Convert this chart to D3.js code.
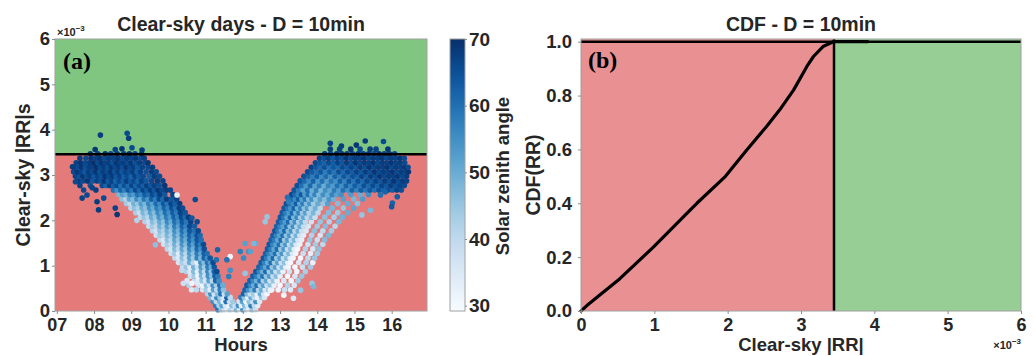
<!DOCTYPE html>
<html>
<head>
<meta charset="utf-8">
<script src="https://cdn.jsdelivr.net/npm/d3@7"></script>
<style>
  body { margin: 0; background: #fff; }
  text { font-family: "Liberation Sans", Arial, sans-serif; font-weight: bold; fill: #262626; }
</style>
</head>
<body>
<svg id="chart" width="1036" height="356"></svg>
<script>
// ---- data (RR values in units of 1e-3) ----
const hourTicks = [7, 8, 9, 10, 11, 12, 13, 14, 15, 16];
const hourLabels = ["07", "08", "09", "10", "11", "12", "13", "14", "15", "16"];
const rrTicks = [0, 1, 2, 3, 4, 5, 6];
const szaTicks = [30, 40, 50, 60, 70];
const cdfTicks = [0, 0.2, 0.4, 0.6, 0.8, 1.0];
const rrThreshold = 3.46;
const cdfThreshold = 3.45;

// scatter rows: [RR, [hour, zenith, hour, zenith, ...]]
const valleyRows = [
  [0.03, [11.33,60, 11.42,45, 11.5,38, 11.58,33, 11.66,42, 11.75,36, 11.83,48, 11.91,34, 12.0,55, 12.08,40, 12.16,32, 12.25,45, 12.34,38]],
  [0.12, [11.27,58, 11.36,42, 11.44,52, 11.53,36, 11.62,31, 11.7,46, 11.79,38, 11.88,55, 11.96,33, 12.05,47, 12.13,36, 12.22,58, 12.31,40, 12.4,34]],
  [0.21, [11.2,55, 11.29,40, 11.38,48, 11.47,33, 11.55,60, 11.64,38, 11.73,44, 11.9,36, 11.99,52, 12.08,31, 12.17,46, 12.26,38, 12.35,55, 12.45,35]],
  [0.3,  [11.12,48, 11.21,38, 11.3,56, 11.39,43, 11.48,35, 11.57,62, 11.66,40, 11.95,58, 12.04,45, 12.13,34, 12.22,50, 12.31,40, 12.4,32, 12.5,44, 12.58,36]],
  [0.38, [11.05,42, 11.14,55, 11.23,36, 11.32,47, 11.41,60, 11.5,38, 11.58,52, 12.02,62, 12.11,48, 12.2,38, 12.29,44, 12.38,33, 12.47,50, 12.56,36, 12.65,30]]
];

const fallRows = [
  [0.47, [10.62,35, 10.75,40, 10.92,36, 11.02,44, 11.12,33, 11.21,52, 11.3,40, 11.39,58, 11.48,46]],
  [0.57, [10.55,42, 10.82,38, 10.92,31, 11.02,46, 11.11,37, 11.2,55, 11.29,43, 11.38,60, 11.46,50]],
  [0.67, [10.5,36, 10.7,40, 10.8,33, 10.9,45, 11.0,36, 11.09,52, 11.18,41, 11.27,62, 11.36,55]],
  [0.77, [10.59,37, 10.69,44, 10.79,32, 10.89,48, 10.98,38, 11.07,55, 11.16,46, 11.25,63, 11.33,58]],
  [0.87, [10.48,42, 10.58,35, 10.68,47, 10.78,33, 10.88,50, 10.97,40, 11.06,56, 11.15,45, 11.23,62, 11.3,66]],
  [0.97, [10.38,39, 10.48,45, 10.58,34, 10.68,49, 10.78,38, 10.88,53, 10.97,44, 11.06,58, 11.15,50, 11.23,64]],
  [1.07, [10.27,36, 10.37,43, 10.47,38, 10.57,50, 10.67,41, 10.77,33, 10.87,55, 10.96,47, 11.05,60, 11.13,53, 11.2,66]],
  [1.17, [10.17,40, 10.27,35, 10.37,46, 10.47,39, 10.57,52, 10.67,44, 10.77,57, 10.87,48, 10.96,62, 11.05,55, 11.12,64]],
  [1.27, [10.07,38, 10.17,44, 10.27,34, 10.37,48, 10.47,41, 10.57,53, 10.67,46, 10.77,58, 10.87,51, 10.96,63, 11.04,60]],
  [1.37, [9.97,41, 10.07,36, 10.17,47, 10.27,40, 10.37,51, 10.47,44, 10.57,56, 10.67,49, 10.77,61, 10.87,55, 10.96,65]],
  [1.47, [9.87,37, 9.97,43, 10.07,39, 10.17,49, 10.27,42, 10.37,54, 10.47,47, 10.57,59, 10.67,52, 10.77,63, 10.86,58, 10.94,66]],
  [1.57, [9.77,40, 9.87,35, 9.97,46, 10.07,41, 10.17,51, 10.27,45, 10.37,56, 10.47,50, 10.57,61, 10.67,55, 10.77,64, 10.88,60]],
  [1.67, [9.67,38, 9.77,44, 9.87,40, 9.97,48, 10.07,43, 10.17,53, 10.27,47, 10.37,58, 10.47,52, 10.57,62, 10.67,57, 10.77,65, 10.85,61]],
  [1.77, [9.57,41, 9.67,37, 9.77,46, 9.87,42, 9.97,50, 10.07,45, 10.17,55, 10.27,49, 10.37,60, 10.47,54, 10.57,64, 10.7,60, 10.8,66]],
  [1.87, [9.47,39, 9.57,44, 9.67,40, 9.77,49, 9.87,44, 9.97,53, 10.07,47, 10.17,58, 10.27,52, 10.37,62, 10.47,57, 10.57,66, 10.7,63]],
  [1.97, [9.37,42, 9.47,38, 9.57,47, 9.67,43, 9.77,51, 9.87,46, 9.97,56, 10.07,50, 10.17,60, 10.27,55, 10.37,64, 10.48,59, 10.6,67]],
  [2.07, [9.25,40, 9.35,45, 9.45,41, 9.55,50, 9.65,45, 9.75,54, 9.85,49, 9.95,58, 10.05,53, 10.15,62, 10.25,57, 10.35,66, 10.45,61, 10.54,68]],
  [2.17, [9.12,43, 9.22,39, 9.32,48, 9.42,44, 9.52,52, 9.62,47, 9.72,56, 9.82,51, 9.92,60, 10.02,55, 10.12,63, 10.22,58, 10.32,67, 10.45,64]],
  [2.27, [8.99,41, 9.09,46, 9.19,42, 9.29,50, 9.39,46, 9.49,55, 9.59,50, 9.69,58, 9.79,54, 9.89,62, 9.99,57, 10.09,65, 10.19,60, 10.29,68, 10.38,66]],
  [2.37, [8.87,44, 8.97,40, 9.07,49, 9.17,45, 9.27,53, 9.37,48, 9.47,57, 9.57,52, 9.67,61, 9.77,56, 9.87,64, 9.97,59, 10.07,67, 10.17,63, 10.3,68]],
  [2.47, [8.75,46, 8.85,42, 8.95,51, 9.05,47, 9.15,55, 9.25,50, 9.35,59, 9.45,54, 9.55,63, 9.65,58, 9.75,66, 9.85,61, 9.95,68, 10.08,64, 10.22,67]],
  [2.57, [8.67,48, 8.77,52, 8.87,49, 8.97,56, 9.07,53, 9.17,60, 9.27,57, 9.37,63, 9.47,60, 9.57,66, 9.67,62, 9.77,68, 9.9,64, 10.12,67]]
];

const morningRows = [
  [2.67, [7.72,66, 8.05,68, 8.52,60, 8.62,55, 8.72,62, 8.82,57, 8.92,64, 9.02,59, 9.12,66, 9.22,61, 9.32,67, 9.42,63, 9.52,68, 9.62,64, 9.72,69, 9.82,66, 9.95,68, 10.05,67]],
  [2.77, [7.62,67, 7.9,65, 8.22,66, 8.32,62, 8.42,68, 8.52,63, 8.62,66, 8.72,60, 8.82,65, 8.92,61, 9.02,67, 9.12,62, 9.22,66, 9.32,63, 9.42,68, 9.52,64, 9.62,67, 9.75,65, 9.9,69]],
  [2.87, [7.58,68, 7.7,66, 7.82,69, 7.96,64, 8.08,67, 8.18,65, 8.28,69, 8.38,64, 8.48,67, 8.58,62, 8.68,66, 8.78,63, 8.88,68, 8.98,64, 9.08,66, 9.18,62, 9.28,67, 9.4,64, 9.55,66, 9.7,68, 9.85,67]],
  [2.97, [7.5,67, 7.6,65, 7.7,69, 7.8,66, 7.9,68, 8.0,64, 8.1,67, 8.2,65, 8.3,69, 8.4,66, 8.5,68, 8.6,64, 8.7,67, 8.8,63, 8.9,66, 9.0,62, 9.1,67, 9.2,64, 9.32,66, 9.48,63, 9.62,68, 9.76,66]],
  [3.07, [7.45,66, 7.55,69, 7.65,67, 7.75,64, 7.85,68, 7.95,66, 8.05,69, 8.15,65, 8.25,68, 8.35,66, 8.45,69, 8.55,65, 8.65,68, 8.75,64, 8.85,67, 8.95,65, 9.05,68, 9.15,63, 9.25,67, 9.4,65, 9.55,68, 9.67,66]],
  [3.17, [7.47,68, 7.57,66, 7.67,69, 7.77,65, 7.87,68, 7.97,67, 8.07,70, 8.17,66, 8.27,68, 8.37,65, 8.47,69, 8.57,66, 8.67,68, 8.77,65, 8.87,69, 8.97,66, 9.07,68, 9.17,64, 9.3,67, 9.45,66, 9.57,68]],
  [3.27, [7.52,67, 7.64,69, 7.76,66, 7.88,68, 8.0,70, 8.1,66, 8.2,69, 8.3,67, 8.4,68, 8.5,65, 8.6,69, 8.7,67, 8.8,68, 8.9,66, 9.0,69, 9.1,65, 9.22,68, 9.36,66, 9.45,69]],
  [3.37, [7.62,68, 7.78,66, 7.92,69, 8.04,67, 8.16,69, 8.28,66, 8.4,68, 8.52,67, 8.64,69, 8.76,66, 8.88,68, 9.0,67, 9.12,69, 9.25,66, 9.35,68]],
  [3.47, [7.9,68, 8.1,67, 8.3,69, 8.45,66, 8.62,68, 8.8,67, 8.95,69, 9.1,66, 9.28,68]]
];

const riseRows = [
  [0.47, [12.06,62, 12.15,55, 12.24,48, 12.33,58, 12.42,42, 12.51,50, 12.6,36, 12.69,44, 12.78,33, 12.95,31, 13.12,38, 13.28,34]],
  [0.57, [12.11,64, 12.2,57, 12.29,50, 12.38,60, 12.47,44, 12.56,52, 12.65,38, 12.74,46, 12.84,33, 13.0,30, 13.2,42, 13.38,36]],
  [0.67, [12.19,62, 12.28,56, 12.37,49, 12.46,59, 12.55,43, 12.64,51, 12.73,37, 12.82,45, 12.92,32, 13.1,35, 13.3,31, 13.48,44]],
  [0.77, [12.27,63, 12.36,58, 12.45,51, 12.54,60, 12.63,45, 12.72,53, 12.81,39, 12.9,47, 13.0,33, 13.2,30, 13.4,36, 13.58,45]],
  [0.87, [12.35,64, 12.44,57, 12.53,50, 12.62,61, 12.71,44, 12.8,52, 12.89,38, 12.98,46, 13.08,32, 13.25,37, 13.45,31, 13.68,43]],
  [0.97, [12.43,62, 12.52,58, 12.61,51, 12.7,60, 12.79,45, 12.88,53, 12.97,39, 13.06,47, 13.15,34, 13.22,31, 13.4,30, 13.6,38, 13.82,44]],
  [1.07, [12.49,63, 12.58,57, 12.67,50, 12.76,60, 12.85,44, 12.94,52, 13.03,38, 13.12,46, 13.21,33, 13.28,30, 13.5,35, 13.7,42, 13.88,32]],
  [1.17, [12.55,64, 12.64,58, 12.73,51, 12.82,61, 12.91,45, 13.0,53, 13.09,39, 13.18,47, 13.27,34, 13.35,31, 13.55,30, 13.75,40, 13.93,45]],
  [1.27, [12.61,62, 12.7,57, 12.79,52, 12.88,60, 12.97,46, 13.06,54, 13.15,40, 13.24,48, 13.33,35, 13.42,31, 13.62,38, 13.82,33, 14.0,44]],
  [1.37, [12.66,63, 12.75,58, 12.84,51, 12.93,61, 13.02,45, 13.11,53, 13.2,39, 13.29,47, 13.38,34, 13.47,30, 13.68,42, 13.88,36, 14.05,46]],
  [1.47, [12.71,64, 12.8,57, 12.89,52, 12.98,60, 13.07,46, 13.16,54, 13.25,40, 13.34,48, 13.43,35, 13.53,32, 13.75,37, 13.95,44, 14.15,40]],
  [1.57, [12.76,62, 12.85,58, 12.94,51, 13.03,61, 13.12,45, 13.21,53, 13.3,41, 13.39,48, 13.48,36, 13.58,33, 13.8,45, 14.0,38, 14.2,47]],
  [1.67, [12.81,63, 12.9,57, 12.99,52, 13.08,60, 13.17,46, 13.26,54, 13.35,40, 13.44,49, 13.53,37, 13.63,34, 13.85,42, 14.08,36, 14.3,48]],
  [1.77, [12.86,64, 12.95,58, 13.04,51, 13.13,61, 13.22,47, 13.31,54, 13.4,41, 13.49,49, 13.58,38, 13.7,35, 13.92,46, 14.15,40, 14.38,44]],
  [1.87, [12.91,62, 13.0,57, 13.09,52, 13.18,60, 13.27,46, 13.36,55, 13.45,42, 13.54,50, 13.63,39, 13.76,36, 14.0,44, 14.22,47, 14.48,41]],
  [1.97, [12.96,63, 13.05,58, 13.14,53, 13.23,61, 13.32,47, 13.41,55, 13.5,43, 13.59,50, 13.68,40, 13.84,37, 14.08,45, 14.32,42, 14.58,48]],
  [2.07, [13.01,64, 13.1,59, 13.19,52, 13.28,62, 13.37,48, 13.46,56, 13.55,44, 13.64,51, 13.73,41, 13.85,47, 13.94,38, 14.2,46, 14.45,43, 14.68,49]],
  [2.17, [13.06,63, 13.15,58, 13.24,53, 13.33,61, 13.42,49, 13.51,57, 13.6,45, 13.69,52, 13.78,42, 13.9,48, 14.02,40, 14.3,47, 14.55,44, 14.82,50]],
  [2.27, [13.11,64, 13.2,59, 13.29,54, 13.38,62, 13.47,50, 13.56,57, 13.65,46, 13.74,53, 13.83,43, 13.95,49, 14.08,41, 14.4,48, 14.7,45, 14.98,51]],
  [2.37, [13.17,65, 13.26,60, 13.35,55, 13.44,63, 13.53,51, 13.62,58, 13.71,47, 13.8,54, 13.9,44, 14.02,50, 14.16,45, 14.28,52, 14.55,47, 14.82,50, 15.08,46]],
  [2.47, [13.23,64, 13.32,61, 13.41,56, 13.5,63, 13.59,52, 13.68,59, 13.77,48, 13.86,55, 13.96,46, 14.08,52, 14.2,47, 14.32,54, 14.44,49, 14.7,52, 14.98,48, 15.22,53]],
  [2.57, [13.31,66, 13.4,61, 13.49,57, 13.58,64, 13.67,53, 13.76,60, 13.85,50, 13.94,57, 14.04,48, 14.16,55, 14.28,50, 14.4,57, 14.52,52, 14.64,55, 14.9,53, 15.15,50, 15.38,55]]
];

const afternoonRows = [
  [2.67, [13.38,64, 13.5,58, 13.62,52, 13.74,60, 13.86,50, 13.98,57, 14.1,48, 14.22,55, 14.34,51, 14.46,58, 14.58,53, 14.7,60, 14.82,55, 14.94,62, 15.06,57, 15.18,63, 15.3,59, 15.42,64, 15.54,60, 15.66,65, 15.78,62, 15.9,66, 16.02,63, 16.14,67, 16.26,65]],
  [2.77, [13.46,65, 13.58,60, 13.7,54, 13.82,61, 13.94,52, 14.06,58, 14.18,50, 14.3,57, 14.42,53, 14.54,60, 14.66,55, 14.78,62, 14.9,57, 15.02,63, 15.14,59, 15.26,65, 15.38,61, 15.5,66, 15.62,62, 15.74,67, 15.86,64, 15.98,68, 16.1,65, 16.22,67, 16.34,66]],
  [2.87, [13.54,64, 13.66,61, 13.78,56, 13.9,62, 14.02,54, 14.14,60, 14.26,53, 14.38,59, 14.5,55, 14.62,62, 14.74,57, 14.86,64, 14.98,59, 15.1,65, 15.22,61, 15.34,66, 15.46,63, 15.58,67, 15.7,64, 15.82,68, 15.94,65, 16.06,69, 16.18,66, 16.3,68, 16.4,67]],
  [2.97, [13.64,65, 13.76,62, 13.88,58, 14.0,63, 14.12,56, 14.24,61, 14.36,55, 14.48,62, 14.6,58, 14.72,64, 14.84,60, 14.96,65, 15.08,62, 15.2,67, 15.32,63, 15.44,68, 15.56,65, 15.68,69, 15.8,66, 15.92,68, 16.04,67, 16.16,69, 16.28,66, 16.4,68]],
  [3.07, [13.74,66, 13.86,63, 13.98,60, 14.1,64, 14.22,58, 14.34,63, 14.46,59, 14.58,65, 14.7,61, 14.82,66, 14.94,63, 15.06,67, 15.18,64, 15.3,68, 15.42,65, 15.54,69, 15.66,66, 15.78,68, 15.9,67, 16.02,69, 16.14,66, 16.26,68, 16.38,67, 16.45,69]],
  [3.17, [13.84,67, 13.96,64, 14.08,61, 14.2,65, 14.32,60, 14.44,64, 14.56,61, 14.68,66, 14.8,63, 14.92,67, 15.04,64, 15.16,68, 15.28,65, 15.4,69, 15.52,66, 15.64,68, 15.76,67, 15.88,69, 16.0,66, 16.12,68, 16.24,67, 16.36,69, 16.44,66]],
  [3.27, [13.95,66, 14.07,64, 14.19,62, 14.31,66, 14.43,63, 14.55,67, 14.67,64, 14.79,68, 14.91,65, 15.03,69, 15.15,66, 15.27,68, 15.39,67, 15.51,69, 15.63,66, 15.75,68, 15.87,67, 15.99,69, 16.11,67, 16.23,68, 16.35,66]],
  [3.37, [14.06,67, 14.18,65, 14.3,68, 14.42,64, 14.54,67, 14.66,65, 14.78,69, 14.9,66, 15.02,68, 15.14,67, 15.26,69, 15.38,66, 15.5,68, 15.62,67, 15.74,69, 15.86,66, 15.98,68, 16.1,67, 16.22,69, 16.34,66]],
  [3.47, [14.2,68, 14.36,66, 14.52,69, 14.66,67, 14.8,68, 14.95,66, 15.1,69, 15.24,67, 15.38,68, 15.52,66, 15.66,69, 15.8,67, 15.94,68, 16.08,66]],
  [3.57, [14.35,68, 14.6,67, 14.9,69, 15.15,66, 15.42,68, 15.58,67, 15.9,69]]
];

// isolated points: [hour, RR, zenith]
const strayPts = [
  [8.17,3.88,68], [8.89,3.92,66], [8.93,3.81,68], [8.03,3.56,69], [8.57,3.56,67], [9.02,3.6,66],
  [9.29,3.55,68], [8.75,3.58,69], [7.5,2.85,66], [7.81,2.56,66], [8.08,2.41,68], [8.57,2.27,67],
  [8.62,2.13,69], [8.26,2.49,66], [8.12,2.23,68], [7.68,2.49,67], [7.42,3.18,68], [7.95,2.72,67],
  [10.23,2.56,32], [10.72,2.46,66], [10.63,2.05,64], [10.77,1.97,66], [9.15,2.0,42], [9.65,1.46,46],
  [10.36,0.9,40], [10.4,0.61,38], [10.63,0.61,31], [10.77,0.61,35],
  [12.06,1.49,52], [11.93,1.31,58], [12.16,1.31,55], [12.34,1.49,50], [11.66,1.2,31], [11.57,1.13,60],
  [11.66,0.9,55], [11.62,0.76,58], [12.06,0.83,45], [12.02,1.17,56], [11.32,1.35,62], [11.29,1.13,60],
  [12.29,1.49,48], [12.2,1.31,52], [12.65,2.08,45], [12.6,1.97,45], [13.2,2.51,60], [13.23,2.41,58],
  [13.55,0.46,45], [13.36,0.28,35], [13.1,0.35,31], [12.74,0.46,32], [13.86,0.61,45], [13.9,0.54,48],
  [14.35,3.7,67], [15.29,3.75,68], [15.78,3.74,66], [15.05,3.66,69], [14.65,3.64,68],
  [16.02,2.38,62], [16.0,2.3,64], [16.15,2.52,63], [15.7,2.56,60], [15.83,2.63,62], [15.2,2.12,45], [15.43,2.22,48]
];

// CDF curve
const cdfRR  = [0, 0.08, 0.53, 0.99, 1.44, 1.58, 1.97, 2.26, 2.53, 2.71, 2.90, 3.08, 3.17, 3.30, 3.44, 3.91];
const cdfVal = [0, 0.02, 0.12, 0.238, 0.362, 0.40, 0.50, 0.598, 0.685, 0.747, 0.821, 0.908, 0.945, 0.982, 1.0, 1.0];

// ---- build point list ----
function fromRows(rows) {
  const out = [];
  rows.forEach(([rr, pairs]) => {
    for (let i = 0; i < pairs.length; i += 2) out.push({ h: pairs[i], rr: rr, sza: pairs[i + 1] });
  });
  return out;
}
const points = [].concat(
  fromRows(valleyRows), fromRows(fallRows), fromRows(morningRows),
  fromRows(riseRows), fromRows(afternoonRows),
  strayPts.map(d => ({ h: d[0], rr: d[1], sza: d[2] }))
);

// ---- scales ----
const svg = d3.select("#chart");
const xA = d3.scaleLinear().domain([6.95, 16.95]).range([55, 427]);
const yA = d3.scaleLinear().domain([0, 6]).range([311, 39]);
const color = d3.scaleSequential(d3.interpolateBlues).domain([29.2, 70]);
const cb = d3.scaleLinear().domain([29.2, 70]).range([311, 39]);
const xB = d3.scaleLinear().domain([0, 6]).range([581, 1021]);
const yB = d3.scaleLinear().domain([0, 1.01]).range([311, 39]);

function styleAxis(g, size) {
  g.attr("font-family", "Liberation Sans, Arial, sans-serif").attr("font-size", size);
  g.select(".domain").remove();
  g.selectAll(".tick line").attr("stroke", "#8c8c8c");
  g.selectAll(".tick text").attr("fill", "#262626").attr("font-weight", "bold");
}

// ---- panel (a) ----
const pa = svg.append("g");
pa.append("rect")
  .attr("x", xA(6.95)).attr("y", yA(6))
  .attr("width", xA(16.95) - xA(6.95)).attr("height", yA(rrThreshold) - yA(6))
  .attr("fill", "#80c680");
pa.append("rect")
  .attr("x", xA(6.95)).attr("y", yA(rrThreshold))
  .attr("width", xA(16.95) - xA(6.95)).attr("height", yA(0) - yA(rrThreshold))
  .attr("fill", "#e57a7b");

pa.append("g")
  .selectAll("circle")
  .data(points)
  .enter().append("circle")
    .attr("cx", d => xA(d.h))
    .attr("cy", d => yA(d.rr))
    .attr("r", 2.8)
    .attr("fill", d => color(d.sza));

pa.append("line")
  .attr("x1", xA(6.95)).attr("x2", xA(16.95))
  .attr("y1", yA(rrThreshold)).attr("y2", yA(rrThreshold))
  .attr("stroke", "#000").attr("stroke-width", 2.5);

pa.append("rect")
  .attr("x", xA(6.95)).attr("y", yA(6))
  .attr("width", xA(16.95) - xA(6.95)).attr("height", yA(0) - yA(6))
  .attr("fill", "none").attr("stroke", "#a0a0a0");

pa.append("g")
  .attr("transform", "translate(0," + yA(0) + ")")
  .call(d3.axisBottom(xA).tickValues(hourTicks).tickFormat((d, i) => hourLabels[i]).tickSize(3).tickPadding(4))
  .call(g => styleAxis(g, 18));
pa.append("g")
  .attr("transform", "translate(" + xA(6.95) + ",0)")
  .call(d3.axisLeft(yA).tickValues(rrTicks).tickFormat(d3.format("d")).tickSize(3).tickPadding(2))
  .call(g => styleAxis(g, 18.5));

pa.append("text").attr("x", 57).attr("y", 36).attr("font-size", 11).attr("font-weight", "normal")
  .text("×10").append("tspan").attr("dy", -5).attr("font-size", 8).text("−3");

pa.append("text").attr("x", 241).attr("y", 31).attr("text-anchor", "middle").attr("font-size", 19.5)
  .text("Clear-sky days - D = 10min");
pa.append("text").attr("x", 241).attr("y", 351).attr("text-anchor", "middle").attr("font-size", 18.5)
  .text("Hours");
pa.append("text").attr("transform", "translate(30,175) rotate(-90)").attr("text-anchor", "middle")
  .attr("font-size", 19.5).text("Clear-sky |RR|s");
pa.append("text").attr("x", 63).attr("y", 69)
  .style("font-family", "'Liberation Serif', 'Times New Roman', serif").attr("font-size", 24)
  .style("fill", "#000").text("(a)");

// ---- colorbar ----
const defs = svg.append("defs");
const grad = defs.append("linearGradient").attr("id", "blues")
  .attr("x1", 0).attr("y1", 1).attr("x2", 0).attr("y2", 0);
d3.range(0, 1.0001, 0.05).forEach(t => {
  grad.append("stop").attr("offset", t).attr("stop-color", d3.interpolateBlues(t));
});
svg.append("rect")
  .attr("x", 450).attr("y", cb(70)).attr("width", 15).attr("height", cb(29.2) - cb(70))
  .attr("fill", "url(#blues)").attr("stroke", "#a0a0a0");
svg.append("g")
  .attr("transform", "translate(465,0)")
  .call(d3.axisRight(cb).tickValues(szaTicks).tickSize(2).tickPadding(2))
  .call(g => styleAxis(g, 19));
svg.append("text").attr("transform", "translate(509,176) rotate(-90)").attr("text-anchor", "middle")
  .attr("font-size", 18.5).text("Solar zenith angle");

// ---- panel (b) ----
const pb = svg.append("g");
pb.append("rect")
  .attr("x", xB(0)).attr("y", yB(1.01))
  .attr("width", xB(cdfThreshold) - xB(0)).attr("height", yB(0) - yB(1.01))
  .attr("fill", "#e99093");
pb.append("rect")
  .attr("x", xB(cdfThreshold)).attr("y", yB(1.01))
  .attr("width", xB(6) - xB(cdfThreshold)).attr("height", yB(0) - yB(1.01))
  .attr("fill", "#96ce96");

pb.append("line")
  .attr("x1", xB(0)).attr("x2", xB(6)).attr("y1", yB(1)).attr("y2", yB(1))
  .attr("stroke", "#000").attr("stroke-width", 2.5);
pb.append("line")
  .attr("x1", xB(cdfThreshold)).attr("x2", xB(cdfThreshold)).attr("y1", yB(0)).attr("y2", yB(1.01))
  .attr("stroke", "#000").attr("stroke-width", 2.5);

const cdfLine = d3.line().x(d => xB(d[0])).y(d => yB(d[1]));
pb.append("path")
  .datum(cdfRR.map((v, i) => [v, cdfVal[i]]))
  .attr("d", cdfLine)
  .attr("fill", "none").attr("stroke", "#000").attr("stroke-width", 3.2)
  .attr("stroke-linejoin", "round").attr("stroke-linecap", "round");

pb.append("rect")
  .attr("x", xB(0)).attr("y", yB(1.01))
  .attr("width", xB(6) - xB(0)).attr("height", yB(0) - yB(1.01))
  .attr("fill", "none").attr("stroke", "#a0a0a0");

pb.append("g")
  .attr("transform", "translate(0," + yB(0) + ")")
  .call(d3.axisBottom(xB).ticks(6).tickFormat(d3.format("d")).tickSize(3).tickPadding(4))
  .call(g => styleAxis(g, 18));
pb.append("g")
  .attr("transform", "translate(" + xB(0) + ",0)")
  .call(d3.axisLeft(yB).tickValues(cdfTicks).tickFormat(d3.format(".1f")).tickSize(3).tickPadding(6))
  .call(g => styleAxis(g, 18.5));

pb.append("text").attr("x", 1021).attr("y", 349).attr("text-anchor", "end").attr("font-size", 11).attr("font-weight", "normal")
  .text("×10").append("tspan").attr("dy", -5).attr("font-size", 8).text("−3");

pb.append("text").attr("x", 801).attr("y", 31).attr("text-anchor", "middle").attr("font-size", 19.5)
  .text("CDF - D = 10min");
pb.append("text").attr("x", 801).attr("y", 351).attr("text-anchor", "middle").attr("font-size", 18.5)
  .text("Clear-sky |RR|");
pb.append("text").attr("transform", "translate(540,175) rotate(-90)").attr("text-anchor", "middle")
  .attr("font-size", 19.5).text("CDF(RR)");
pb.append("text").attr("x", 588).attr("y", 68)
  .style("font-family", "'Liberation Serif', 'Times New Roman', serif").attr("font-size", 24)
  .style("fill", "#000").text("(b)");
</script>
</body>
</html>
